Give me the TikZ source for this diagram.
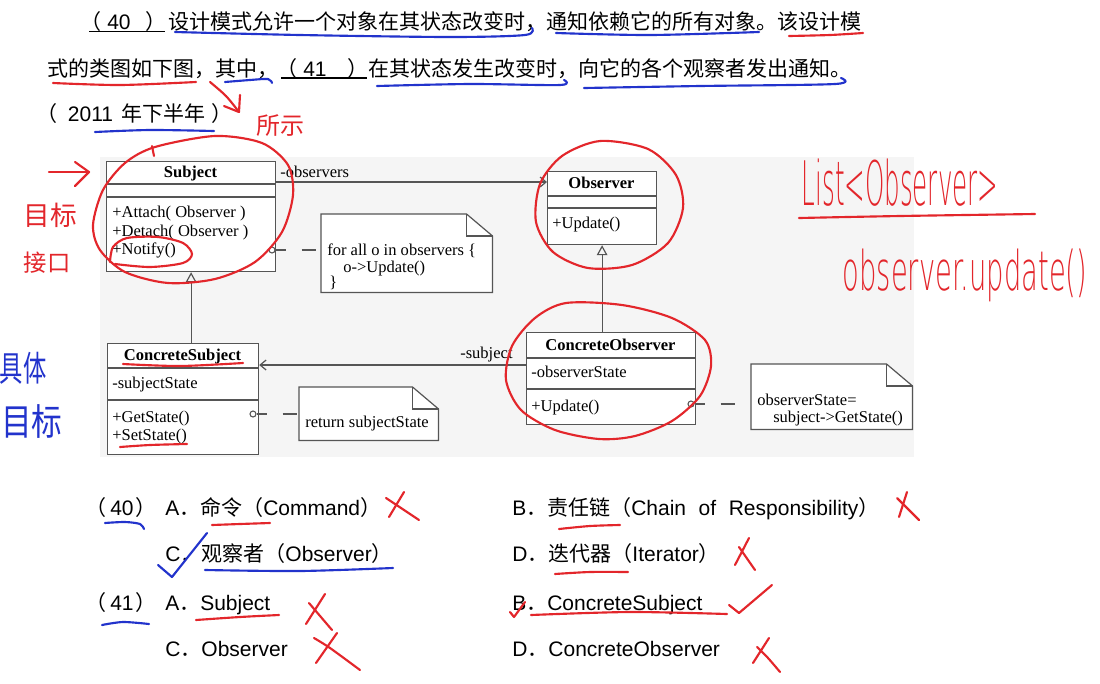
\documentclass[tikz,border=0pt]{standalone}
\usepackage{fontspec}
\usepackage{graphicx}
\usepackage{xcolor}
\usetikzlibrary{arrows.meta}
\setmainfont{Liberation Sans}
\newfontfamily\cjkfont{Noto Sans CJK SC}
\newfontfamily\umlfont{Liberation Serif}
\newfontfamily\handfont{DejaVu Sans ExtraLight}
\newcommand{\zh}[1]{{\cjkfont #1}}
\definecolor{penred}{HTML}{E3262B}
\definecolor{penblue}{HTML}{2233CC}
\definecolor{umlgray}{HTML}{555555}
\definecolor{paper}{HTML}{F5F5F5}
% note outline with folded corner
\newcommand{\dogear}[1]{%
  \draw[umlline,fill=white] (#1.south west) -- (#1.north west) -- ([xshift=-19.5pt]#1.north east)
    -- ([yshift=-16.5pt]#1.north east) -- (#1.south east) -- cycle;
  \draw[umlline] ([xshift=-19.5pt]#1.north east) |- ([yshift=-16.5pt]#1.north east);}

\begin{document}
\begin{tikzpicture}[x=0.75pt,y=-0.75pt,
  umlline/.style={draw=umlgray,line width=0.9pt},
  classbox/.style={umlline,fill=white,inner sep=0pt,anchor=north west},
  notebox/.style={inner sep=0pt,anchor=north west},
  umltitle/.style={font=\umlfont\bfseries\fontsize{12.4}{14}\selectfont,anchor=base},
  umltext/.style={font=\umlfont\fontsize{12.4}{14}\selectfont,anchor=base west,inner sep=0pt},
  assoc/.style={umlline,-{Straight Barb[length=4.5pt,width=7.5pt]}},
  inherit/.style={umlline,-{Triangle[open,length=7.5pt,width=8pt]}},
  notelink/.style={umlline,dash pattern=on 7.5pt off 12pt on 10.5pt off 20pt},
  ringmark/.style={circle,draw=umlgray,line width=0.8pt,fill=white,inner sep=0pt,minimum size=4.5pt},
  qtext/.style={font=\fontsize{15.75}{18}\selectfont,anchor=base west,inner sep=0pt},
  redpen/.style={draw=penred,line width=1.6pt,line cap=round,line join=round},
  bluepen/.style={draw=penblue,line width=1.6pt,line cap=round,line join=round},
  redhand/.style={text=penred,inner sep=0pt,font=\cjkfont},
  bluehand/.style={text=penblue,inner sep=0pt,font=\cjkfont}]

  \fill[white] (0,0) rectangle (1100,683);
  \useasboundingbox (0,0) rectangle (1100,683);
  \fill[paper] (100,157) rectangle (914,457);

  % question
  \node[qtext] (q40) at (80,29.5) {\zh{（}\hspace{4.5pt}40\hspace{11pt}\zh{）}};
  \draw[line width=0.9pt] (89,31.5) -- (165,31.5);
  \node[qtext] (line1) at (168,29.5) {\zh{设计模式允许一个对象在其状态改变时，通知依赖它的所有对象。该设计模}};
  \node[qtext] (line2) at (47,76) {\zh{式的类图如下图，其中，}};
  \node[qtext] (q41) at (276,76) {\zh{（}\hspace{4.5pt}41\hspace{16pt}\zh{）}};
  \draw[line width=0.9pt] (281,78) -- (367,78);
  \node[qtext] (line2b) at (368,76) {\zh{在其状态发生改变时，向它的各个观察者发出通知。}};
  \node[qtext] (year) at (36,121) {\zh{（}\hspace{8pt}2011\hspace{6pt}\zh{年下半年}\hspace{5pt}\zh{）}};

  % class diagram
  \node[classbox,minimum width=126.75pt,minimum height=82.5pt] (subj) at (106,161) {};
  \draw[umlline] (subj.north west) ++(0,23) -- ++(169,0) (subj.north west) ++(0,36) -- ++(169,0);
  \node[umltitle] (subjname) at (190.5,177.5) {Subject};
  \node[umltext] (subjop1) at (112,217.5) {+Attach( Observer )};
  \node[umltext] (subjop2) at (112,236.5) {+Detach( Observer )};
  \node[umltext] (subjop3) at (112,254.5) {+Notify()};

  \node[classbox,minimum width=81.75pt,minimum height=54.75pt] (obs) at (547,171) {};
  \draw[umlline] (obs.north west) ++(0,25) -- ++(109,0) (obs.north west) ++(0,37) -- ++(109,0);
  \node[umltitle] (obsname) at (601.5,188.5) {Observer};
  \node[umltext] (obsop) at (552,228.5) {+Update()};

  \node[classbox,minimum width=113.25pt,minimum height=83.25pt] (csub) at (107,343) {};
  \draw[umlline] (csub.north west) ++(0,25) -- ++(151,0) (csub.north west) ++(0,57) -- ++(151,0);
  \node[umltitle] (csubname) at (182.5,360.5) {ConcreteSubject};
  \node[umltext] (csubattr) at (112,388.5) {-subjectState};
  \node[umltext] (csubop1) at (112,422.5) {+GetState()};
  \node[umltext] (csubop2) at (112,440.5) {+SetState()};

  \node[classbox,minimum width=126.75pt,minimum height=69pt] (cobs) at (526,332) {};
  \draw[umlline] (cobs.north west) ++(0,26) -- ++(169,0) (cobs.north west) ++(0,57) -- ++(169,0);
  \node[umltitle] (cobsname) at (610.5,350.5) {ConcreteObserver};
  \node[umltext] (cobsattr) at (531,377.5) {-observerState};
  \node[umltext] (cobsop) at (531,411.5) {+Update()};

  \path ([yshift=-15.75pt]subj.north east) coordinate (obsline);
  \draw[assoc] (obsline) -- (obsline -| obs.west);
  \node[umltext] (obslabel) at (280,177.5) {-observers};
  \draw[inherit] (subj.south |- csub.north) -- (subj.south);
  \draw[inherit] (obs.south |- cobs.north) -- (obs.south);
  \path ([yshift=-24.75pt]cobs.north west) coordinate (subline);
  \draw[assoc] (subline) -- (subline -| csub.east);
  \node[umltext] (sublabel) at (460,358.5) {-subject};

  % notes
  \node[notebox,minimum width=128.25pt,minimum height=58.5pt] (note1) at (321,214) {};
  \dogear{note1}
  \node[umltext] (note1a) at (327,255.5) {for all o in observers \{};
  \node[umltext] (note1b) at (343,272.5) {o->Update()};
  \node[umltext] (note1c) at (329,287.5) {\}};
  \node[ringmark] (knob1) at (272,250) {};
  \draw[notelink] (knob1) -- (knob1 -| note1.west);

  \node[notebox,minimum width=104.25pt,minimum height=39.75pt] (note2) at (299,387) {};
  \dogear{note2}
  \node[umltext] (note2a) at (305,427.5) {return subjectState};
  \node[ringmark] (knob2) at (253,414) {};
  \draw[notelink] (knob2) -- (knob2 -| note2.west);

  \node[notebox,minimum width=120.75pt,minimum height=48.75pt] (note3) at (751,364) {};
  \dogear{note3}
  \node[umltext] (note3a) at (757,405.5) {observerState=};
  \node[umltext] (note3b) at (773,422.5) {subject->GetState()};
  \node[ringmark] (knob3) at (691,404) {};
  \draw[notelink] (knob3) -- (knob3 -| note3.west);

  % options
  \node[qtext] (a40) at (85,515) {\zh{（}\hspace{3pt}40\hspace{1.5pt}\zh{）}};
  \node[qtext] (opt40a) at (165,515) {A\zh{．命令（}Command\zh{）}};
  \node[qtext] (opt40b) at (512,515) {B\zh{．责任链（}Chain\hspace{0.6em}of\hspace{0.6em}Responsibility\zh{）}};
  \node[qtext] (opt40c) at (165,561) {C\zh{．观察者（}Observer\zh{）}};
  \node[qtext] (opt40d) at (512,561) {D\zh{．迭代器（}Iterator\zh{）}};
  \node[qtext] (a41) at (85,610) {\zh{（}\hspace{3pt}41\hspace{1.5pt}\zh{）}};
  \node[qtext] (opt41a) at (165,610) {A\zh{．}Subject};
  \node[qtext] (opt41b) at (512,610) {B\zh{．}ConcreteSubject};
  \node[qtext] (opt41c) at (165,656) {C\zh{．}Observer};
  \node[qtext] (opt41d) at (512,656) {D\zh{．}ConcreteObserver};

  % handwriting
  \draw[bluepen] plot[smooth] coordinates {(175,32) (300,35) (450,37) (525,35) (532,28)};
  \draw[bluepen] plot[smooth] coordinates {(556,33) (650,35) (759,32)};
  \draw[redpen] plot[smooth] coordinates {(789,36) (830,35) (863,33)};
  \draw[redpen] plot[smooth] coordinates {(53,83) (120,85) (196,82)};
  \draw[bluepen] plot[smooth] coordinates {(225,82) (250,80) (268,79) (272,83)};
  \draw[bluepen] plot[smooth] coordinates {(377,86) (470,84) (560,85) (564,80)};
  \draw[bluepen] plot[smooth] coordinates {(584,88) (700,86) (835,84) (841,78)};
  \draw[bluepen] plot[smooth] coordinates {(95,132) (150,130) (214,131)};
  \draw[redpen] plot[smooth] coordinates {(210,82) (226,96) (239,112)};
  \draw[redpen] (240,95) -- (239,112) -- (224,106);
  \node[redhand,font=\cjkfont\fontsize{18}{18}\selectfont] (hwshown) at (280,126) {所示};

  \draw[redpen] (49,172) -- (89,172);
  \draw[redpen] (75,162) -- (89,172) -- (75,186);
  \node[redhand,font=\cjkfont\fontsize{20}{20}\selectfont] (hwtarget) at (50,215) {目标};
  \node[redhand,font=\cjkfont\fontsize{17.5}{17.5}\selectfont] (hwiface) at (47,263) {接口};
  \node[bluehand,font=\cjkfont\fontsize{17.5}{17.5}\selectfont] (hwconc) at (23,368) {\scalebox{1}[1.5]{具体}};
  \node[bluehand,font=\cjkfont\fontsize{23}{23}\selectfont] (hwtarget2) at (32,421) {\scalebox{1}[1.2]{目标}};

  \draw[redpen] plot[smooth cycle] coordinates {(155,147) (215,136) (262,143) (288,165) (293,195) (282,232) (255,262) (215,279) (168,283) (125,272) (100,250) (93,225) (103,190) (125,163)};
  \draw[redpen] (152,146) -- (154,156);
  \draw[redpen] plot[smooth] coordinates {(110,262) (113,247) (127,238) (158,237) (183,243) (192,254) (183,263) (150,267) (115,264)};
  \draw[redpen] plot[smooth cycle] coordinates {(600,141) (648,149) (676,175) (683,208) (668,243) (632,265) (588,268) (553,252) (536,222) (540,184) (562,156)};
  \draw[redpen] plot[smooth cycle] coordinates {(566,303) (622,305) (672,318) (705,340) (711,366) (700,396) (672,421) (635,436) (599,439) (555,430) (521,410) (506,380) (512,346) (535,318)};
  \draw[redpen] plot[smooth] coordinates {(123,364) (180,366) (243,363)};
  \draw[redpen] plot[smooth] coordinates {(120,447) (150,445) (187,444)};

  \node[text=penred,inner sep=0pt,font=\handfont\fontsize{46}{46}\selectfont] (hwlist) at (900,183) {\scalebox{0.4}[1]{List<Observer>}};
  \draw[redpen] plot[smooth] coordinates {(799,218) (900,216) (1035,214)};
  \node[text=penred,inner sep=0pt,font=\handfont\fontsize{41}{41}\selectfont] (hwcall) at (965,275) {\scalebox{0.5}[1]{observer.update()}};

  \draw[bluepen] plot[smooth] coordinates {(105,523) (125,522) (140,524) (144,529)};
  \draw[redpen] plot[smooth] coordinates {(212,525) (240,524) (270,523)};
  \draw[redpen] (386,498) -- (419,520);
  \draw[redpen] (404,492) -- (389,517);
  \draw[bluepen] (158,565) -- (172,577) -- (207,533);
  \draw[bluepen] plot[smooth] coordinates {(205,570) (300,571) (393,568)};
  \draw[bluepen] plot[smooth] coordinates {(102,625) (123,622) (149,624)};
  \draw[redpen] plot[smooth] coordinates {(196,620) (240,617) (279,615)};
  \draw[redpen] (306,624) -- (325,594);
  \draw[redpen] (309,603) -- (332,630);
  \draw[redpen] (337,633) -- (316,663);
  \draw[redpen] plot[smooth] coordinates {(314,638) (330,648) (360,670)};

  \draw[redpen] plot[smooth] coordinates {(559,529) (590,526) (620,525)};
  \draw[redpen] (897,498) -- (919,520);
  \draw[redpen] (907,492) -- (899,517);
  \draw[redpen] plot[smooth] coordinates {(555,574) (590,572) (628,572)};
  \draw[redpen] (749,538) -- (735,565);
  \draw[redpen] (739,547) -- (755,570);
  \draw[redpen] (510,612) -- (514,617) -- (525,602);
  \draw[redpen] plot[smooth] coordinates {(531,615) (630,612) (727,614)};
  \draw[redpen] (729,605) -- (739,613) -- (772,585);
  \draw[redpen] (769,638) -- (753,663);
  \draw[redpen] plot[smooth] coordinates {(757,647) (768,658) (780,672)};
\end{tikzpicture}
\end{document}
